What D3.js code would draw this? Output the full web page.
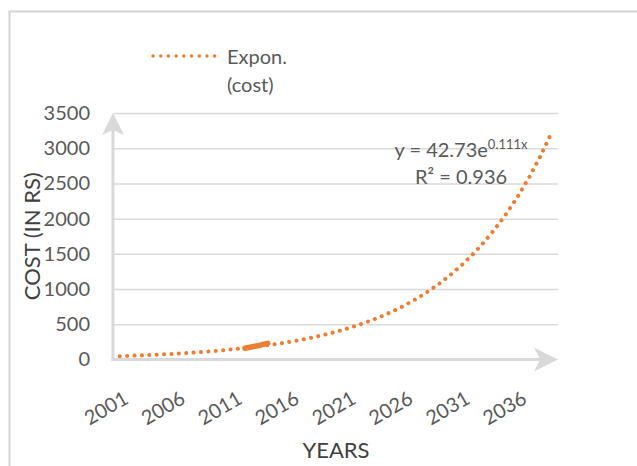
<!DOCTYPE html>
<html>
<head>
<meta charset="utf-8">
<script src="https://cdn.jsdelivr.net/npm/d3@7"></script>
<style>
  html, body { margin: 0; padding: 0; background: #fff; }
  svg { display: block; font-family: Lato, "Open Sans", sans-serif; }
</style>
</head>
<body>
<svg id="chart" width="637" height="466"></svg>
<script>
// Category years on the horizontal axis
const years = d3.range(2001, 2040);
const xLabelYears = [2001, 2006, 2011, 2016, 2021, 2026, 2031, 2036];
const yTicks = [0, 500, 1000, 1500, 2000, 2500, 3000, 3500];

// Observed cost (in Rs)
const costYears = [2012, 2013, 2014];
const costValues = [160, 192, 230];

// Exponential trendline fitted on the cost series: y = a * e^(b * x), x = category index (1-based)
const trendA = 42.73;
const trendB = 0.111;
const rSquared = 0.936;

const trend = years.map((yr, i) => ({ year: yr, value: trendA * Math.exp(trendB * (i + 1)) }));
const cost = costYears.map((yr, i) => ({ year: yr, value: costValues[i] }));

const orange = "#ED7D31";
const grid = "#d9d9d9";
const textCol = "#595959";
const titleCol = "#404040";
const fs = "20px";

const svg = d3.select("#chart");

// chart area border
svg.append("rect")
  .attr("x", 9.5).attr("y", 11.5)
  .attr("width", 700).attr("height", 500)
  .attr("fill", "none").attr("stroke", "#d4d4d4").attr("stroke-width", 2);

const plot = { left: 114, right: 558, top: 113, bottom: 359.5 };

const x = d3.scaleBand().domain(years).range([plot.left, plot.right]).padding(0);
const y = d3.scaleLinear().domain([0, 3500]).range([plot.bottom, plot.top]);

// horizontal gridlines
const gridAxis = svg.append("g")
  .attr("transform", `translate(${plot.left},0)`)
  .call(d3.axisLeft(y).tickValues(yTicks.slice(1)).tickSize(-(plot.right - plot.left)).tickFormat(""));
gridAxis.select(".domain").remove();
gridAxis.selectAll("line").attr("stroke", grid).attr("stroke-width", 1.5);

// y tick labels
const yAxis = svg.append("g")
  .attr("transform", `translate(${plot.left - 1},0)`)
  .call(d3.axisLeft(y).tickValues(yTicks).tickSize(0).tickPadding(23).tickFormat(d3.format("d")));
yAxis.select(".domain").remove();
yAxis.selectAll("text")
  .attr("fill", textCol).style("font-size", fs).style("font-family", "Lato, sans-serif");

// x tick labels, rotated
const xAxis = svg.append("g")
  .attr("transform", `translate(0,${plot.bottom})`)
  .call(d3.axisBottom(x).tickValues(xLabelYears).tickSize(0));
xAxis.select(".domain").remove();
xAxis.selectAll("text")
  .attr("fill", textCol).style("font-size", fs).style("font-family", "Lato, sans-serif")
  .attr("y", 0).attr("dy", 0)
  .attr("text-anchor", "end")
  .attr("transform", "translate(10,43) rotate(-30)");

// axis lines with arrowheads
const axisCol = "#d9d9d9";
svg.append("line")
  .attr("x1", plot.left - 1).attr("x2", plot.left - 1)
  .attr("y1", plot.bottom + 1.5).attr("y2", plot.top + 12)
  .attr("stroke", axisCol).attr("stroke-width", 3);
svg.append("path")
  .attr("d", `M${plot.left - 1},${plot.top} L${plot.left + 10},${plot.top + 22} L${plot.left - 1},${plot.top + 17} L${plot.left - 12},${plot.top + 22} Z`)
  .attr("fill", axisCol);
svg.append("line")
  .attr("x1", plot.left - 2.5).attr("x2", plot.right - 12)
  .attr("y1", plot.bottom).attr("y2", plot.bottom)
  .attr("stroke", axisCol).attr("stroke-width", 3);
svg.append("path")
  .attr("d", `M${plot.right},${plot.bottom} L${plot.right - 24},${plot.bottom + 12} L${plot.right - 18},${plot.bottom} L${plot.right - 24},${plot.bottom - 12} Z`)
  .attr("fill", axisCol);

const cx = d => x(d.year) + x.bandwidth() / 2;

// exponential trendline (round dots)
svg.append("path")
  .datum(trend)
  .attr("d", d3.line().x(cx).y(d => y(d.value)))
  .attr("fill", "none")
  .attr("stroke", orange)
  .attr("stroke-width", 4)
  .attr("stroke-linecap", "round")
  .attr("stroke-dasharray", "0.1 7.3");

// cost series
svg.append("path")
  .datum(cost)
  .attr("d", d3.line().x(cx).y(d => y(d.value)).curve(d3.curveMonotoneX))
  .attr("fill", "none")
  .attr("stroke", orange)
  .attr("stroke-width", 5.5)
  .attr("stroke-linecap", "round");

// trendline equation
const eq = svg.append("text")
  .attr("x", 461).attr("y", 157)
  .attr("text-anchor", "middle")
  .attr("fill", textCol).style("font-size", fs);
eq.append("tspan").text(`y = ${trendA}e`);
eq.append("tspan").attr("dy", -8).style("font-size", "13px").text(`${trendB}x`);
svg.append("text")
  .attr("x", 461).attr("y", 184)
  .attr("text-anchor", "middle")
  .attr("fill", textCol).style("font-size", fs)
  .text(`R² = ${rSquared}`);

// legend
svg.append("line")
  .attr("x1", 153).attr("x2", 215).attr("y1", 56).attr("y2", 56)
  .attr("stroke", orange).attr("stroke-width", 3.4)
  .attr("stroke-linecap", "round").attr("stroke-dasharray", "0.1 7.6");
const leg = svg.append("text").attr("fill", textCol).style("font-size", fs);
leg.append("tspan").attr("x", 227).attr("y", 64).text("Expon.");
leg.append("tspan").attr("x", 227).attr("y", 92).text("(cost)");

// axis titles
svg.append("text")
  .attr("transform", `translate(40,${(plot.top + plot.bottom) / 2}) rotate(-90)`)
  .attr("text-anchor", "middle")
  .attr("fill", titleCol).style("font-size", "22px")
  .text("COST (IN RS)");
svg.append("text")
  .attr("x", 336).attr("y", 458)
  .attr("text-anchor", "middle")
  .attr("fill", titleCol).style("font-size", "22px")
  .text("YEARS");
</script>
</body>
</html>
